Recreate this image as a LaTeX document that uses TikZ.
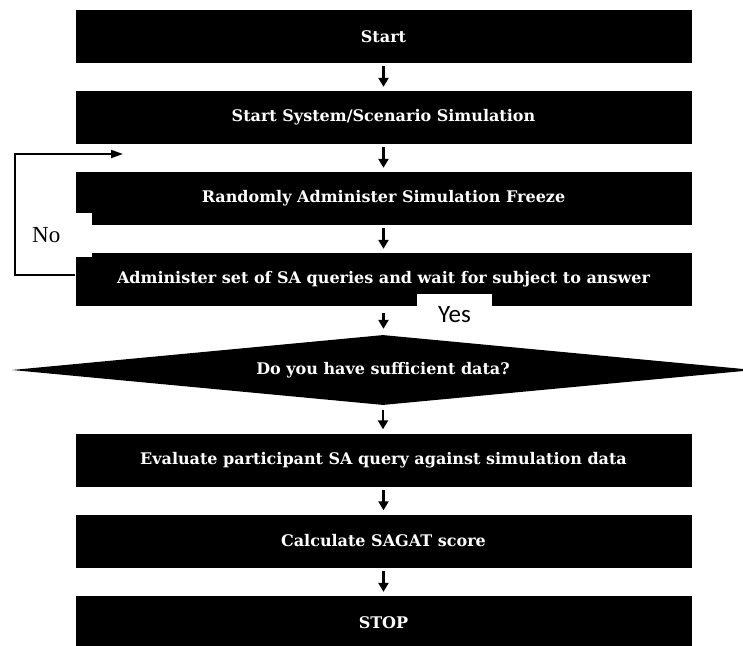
\documentclass[tikz,border=0pt]{standalone}
\usepackage{fontspec}
\setmainfont{DejaVu Serif}
\newfontfamily\yesfont{Carlito}
\newfontfamily\nofont{Liberation Serif}
\usetikzlibrary{arrows.meta,shapes.geometric}

\begin{document}
\begin{tikzpicture}[x=1pt,y=-1pt,
  stepbox/.style={fill=black, text=white,
    font=\bfseries\fontsize{16}{19}\selectfont,
    minimum width=616pt, minimum height=53pt, inner sep=0pt},
  decision/.style={shape=diamond, fill=black, text=white,
    font=\bfseries\fontsize{16}{19}\selectfont,
    minimum width=742pt, minimum height=70pt, inner sep=0pt, aspect=10},
  flow/.style={-{Triangle[width=10pt,length=9pt]}, line width=2.2pt},
  back/.style={-{Triangle[width=8pt,length=12pt]}, line width=1.8pt},
  tag/.style={fill=white, inner sep=0pt}]

\useasboundingbox (0,0) rectangle (743,645);
\clip (0,0) rectangle (743,645);

% process steps
\node[stepbox] (start) at (383.5,36.5)  {Start};
\node[stepbox] (sim)   at (383.5,117.5) {Start System/Scenario Simulation};
\node[stepbox] (freeze) at (383.5,198.5) {Randomly Administer Simulation Freeze};
\node[stepbox] (query) at (383.5,279.5) {Administer set of SA queries and wait for subject to answer};
\node[stepbox] (eval)  at (383.5,460)   {Evaluate participant SA query against simulation data};
\node[stepbox] (score) at (383.5,541)   {Calculate SAGAT score};
\node[stepbox] (stop)  at (383.5,622.5) {STOP};

% branch labels on white patches
\node[tag, minimum width=75pt, minimum height=42pt, font=\yesfont\fontsize{25}{28}\selectfont]
  (yes) at (454.5,314.5) {Yes};
\node[tag, anchor=north west, minimum height=44pt, text width=48pt, inner xsep=12pt,
  align=left, font=\nofont\fontsize{23}{26}\selectfont] (no) at (20,213) {No};

% decision
\node[decision] (dia) at (383,370) {Do you have sufficient data?};

% forward flow
\draw[flow, shorten <=3pt, shorten >=4pt] (start) -- (sim);
\draw[flow, shorten <=3pt, shorten >=4pt] (sim) -- (freeze);
\draw[flow, shorten <=3pt, shorten >=4pt] (freeze) -- (query);
\draw[flow, shorten <=7pt, shorten >=6pt] (query.south) -- (query.south |- dia.north);
\draw[flow, shorten <=5pt, shorten >=4pt] (dia.south) -- (dia.south |- eval.north);
\draw[flow, shorten <=3pt, shorten >=4pt] (eval) -- (score);
\draw[flow, shorten <=3pt, shorten >=4pt] (score) -- (stop);

% "No" loop back above the freeze step
\coordinate (loopend) at (123,154);
\draw[back] ([yshift=4.5pt]query.west) -- ++(-60.5,0) |- (loopend);
\end{tikzpicture}
\end{document}
